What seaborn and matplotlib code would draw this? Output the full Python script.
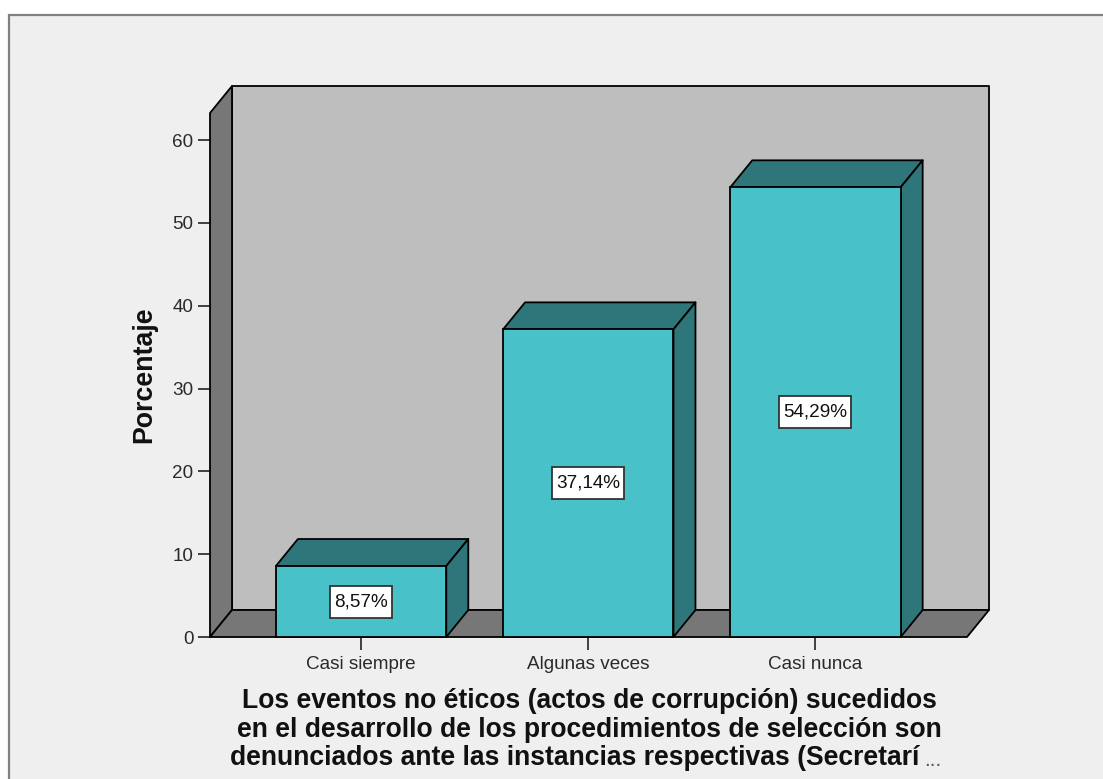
import matplotlib
matplotlib.use("Agg")
import matplotlib.pyplot as plt
import pandas as pd
import seaborn as sns
from matplotlib.patches import Polygon, Rectangle
from matplotlib.transforms import IdentityTransform

categories = ["Casi siempre", "Algunas veces", "Casi nunca"]
values = [8.57, 37.14, 54.29]
value_labels = ["8,57%", "37,14%", "54,29%"]
y_ticks = [0, 10, 20, 30, 40, 50, 60]
y_label = "Porcentaje"
x_lines = ["Los eventos no éticos (actos de corrupción) sucedidos",
           "en el desarrollo de los procedimientos de selección son",
           "denunciados ante las instancias respectivas (Secretarí"]

W, H = 1103, 779
DX, DY = 22, 27          # depth of the pseudo-3D effect, pixels
FRONT, DARK = "#48C2C8", "#2E767A"
WALL, SIDE, PANEL = "#BEBEBE", "#777777", "#EFEFEF"
FONT = "Liberation Sans"

sns.set_theme(style="white")
plt.rcParams["font.family"] = [FONT, "DejaVu Sans"]

fig = plt.figure(figsize=(W / 100, H / 100), dpi=100, facecolor="white")
fig.add_artist(Rectangle((9 / W, -0.01), 1.1, (H - 15) / H + 0.01, transform=fig.transFigure,
                         facecolor=PANEL, edgecolor="#808080", linewidth=1.6, zorder=-10))

ax = fig.add_axes([210 / W, (H - 637) / H, (967 - 210) / W, (637 - 113) / H])
ax.patch.set_visible(False)
df = pd.DataFrame({"cat": categories, "val": values})
sns.barplot(data=df, x="cat", y="val", color=FRONT, saturation=1, width=0.75,
            edgecolor="black", linewidth=1.3, ax=ax, zorder=5)
ax.set_yticks(y_ticks)
ax.set_xlim(-0.665, 2.667)
ax.set_ylim(0, 10 * (637 - 113) / 82.83)

def px(x, y, deep=False):
    p = ax.transData.transform((x, y))
    return (p[0] + DX, p[1] + DY) if deep else (p[0], p[1])

def face(points, color, z):
    ax.add_patch(Polygon(points, closed=True, facecolor=color, edgecolor="black", linewidth=1.3,
                         transform=IdentityTransform(), zorder=z, clip_on=False, joinstyle="round"))

x0, x1 = ax.get_xlim()
y0, y1 = ax.get_ylim()
face([px(x0, y0, True), px(x1, y0, True), px(x1, y1, True), px(x0, y1, True)], WALL, 1)
face([px(x0, y0), px(x0, y1), px(x0, y1, True), px(x0, y0, True)], SIDE, 2)
face([px(x0, y0), px(x1, y0), px(x1, y0, True), px(x0, y0, True)], SIDE, 2)

renderer = fig.canvas.get_renderer()
for bar, lab in zip(ax.patches[:3], value_labels):
    l, r, t = bar.get_x(), bar.get_x() + bar.get_width(), bar.get_height()
    face([px(l, t), px(r, t), px(r, t, True), px(l, t, True)], DARK, 4)
    face([px(r, 0), px(r, t), px(r, t, True), px(r, 0, True)], DARK, 4)
    bar.set_clip_on(False)
    txt = ax.text((l + r) / 2, t / 2, lab, ha="center", va="center", fontsize=13.6, color="#111111", zorder=7)
    ext = txt.get_window_extent(renderer)
    cx, cy = px((l + r) / 2, t / 2)
    ax.add_patch(Rectangle((ext.x0 - 4, cy - 16), ext.width + 8, 32, facecolor="white", edgecolor="#333333",
                           linewidth=1.3, transform=IdentityTransform(), zorder=6, clip_on=False))

sns.despine(ax=ax, left=True, bottom=True, top=True, right=True)
ax.set_xlabel("")
ax.set_ylabel("")
ax.tick_params(axis="both", which="major", length=9, width=1.2, color="#222222", labelsize=13.6,
               labelcolor="#2a2a2a", left=True, bottom=True)
ax.tick_params(axis="y", pad=3)
ax.tick_params(axis="x", pad=4.5)

fig.text(144 / W, 1 - 375 / H, y_label, rotation=90, ha="center", va="center",
         fontsize=19.3, fontweight="bold", color="#111111")
for line, yy, xx in zip(x_lines, [701, 730, 758], [589, 589, 575]):
    fig.text(xx / W, 1 - yy / H, line, ha="center", va="center",
             fontsize=19.1, fontweight="bold", color="#111111")
fig.text(924 / W, 1 - 761 / H, "...", ha="left", va="center", fontsize=15, color="#555555")

fig.savefig("out.png", dpi=100, facecolor=fig.get_facecolor())
